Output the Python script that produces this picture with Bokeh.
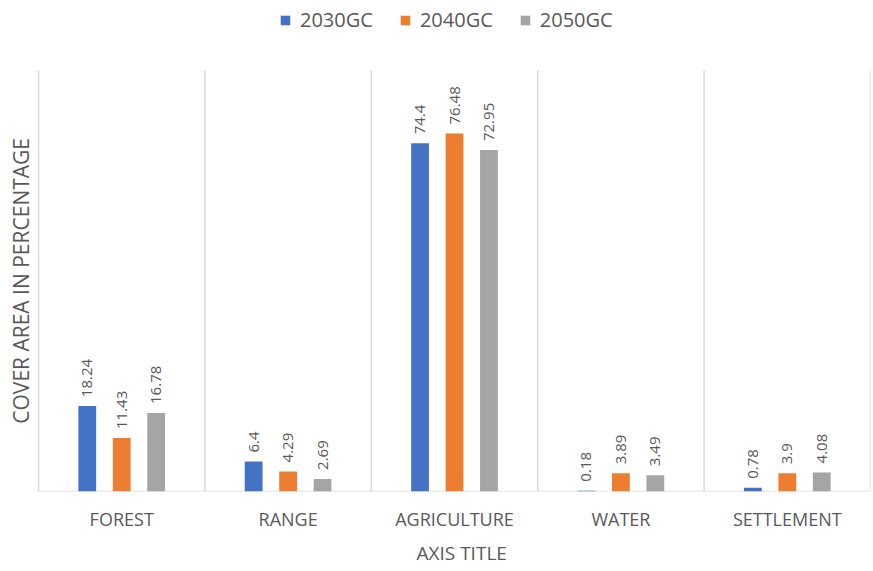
import math
from bokeh.plotting import figure
from bokeh.models import (ColumnDataSource, Range1d, FixedTicker, LabelSet,
                          Legend, LegendItem, Label, Title)
from bokeh.core.properties import value
from bokeh.embed import file_html
from bokeh.resources import INLINE

categories = ["FOREST", "RANGE", "AGRICULTURE", "WATER", "SETTLEMENT"]
series_names = ["2030GC", "2040GC", "2050GC"]
v2030 = [18.24, 6.4, 74.4, 0.18, 0.78]
v2040 = [11.43, 4.29, 76.48, 3.89, 3.9]
v2050 = [16.78, 2.69, 72.95, 3.49, 4.08]
colors = ["#4472C4", "#ED7D31", "#A5A5A5"]
y_max = 90

FONT = "Open Sans"
TXT = "#595959"
GRID = "#D9D9D9"

n = len(categories)
p = figure(width=872, height=570, output_backend="svg", toolbar_location=None,
           x_range=Range1d(-0.2284, n), y_range=Range1d(0, y_max * 493 / 423),
           min_border_left=0, min_border_right=2, min_border_top=0,
           min_border_bottom=77)
p.outline_line_color = None
p.background_fill_color = "white"
p.border_fill_color = "white"
p.yaxis.visible = False
p.xgrid.grid_line_color = None
p.ygrid.grid_line_color = None

# category separators and baseline
bounds = list(range(n + 1))
p.segment(x0=bounds, x1=bounds, y0=[0] * (n + 1), y1=[y_max] * (n + 1),
          line_color=GRID, line_width=1.5)
p.segment(x0=[0], x1=[n], y0=[0], y1=[0], line_color=GRID, line_width=1.5)

offsets = [-0.207, 0.0, 0.207]
bar_w = 0.107
items = []
for name, vals, col, off in zip(series_names, [v2030, v2040, v2050], colors, offsets):
    src = ColumnDataSource(dict(
        x=[i + 0.5 + off for i in range(n)],
        top=vals,
        lab=[str(v) for v in vals],
    ))
    r = p.vbar(x="x", top="top", bottom=0, width=bar_w, source=src,
               fill_color=col, line_color=None)
    items.append(LegendItem(label=name, renderers=[r]))
    ls = LabelSet(x="x", y="top", text="lab", source=src, angle=math.pi / 2,
                  text_align="left", text_baseline="middle", y_offset=9,
                  text_font=value(FONT), text_font_size=value("15px"),
                  text_color=TXT)
    p.add_layout(ls)

legend = Legend(items=items, orientation="horizontal", location=(279, 458),
                label_text_font=FONT, label_text_font_size="20px",
                label_text_color=TXT, glyph_width=12, glyph_height=12,
                spacing=26, border_line_color=None, background_fill_alpha=0,
                padding=0, margin=0, label_standoff=9)
p.add_layout(legend)

ytitle = Label(x=-0.105, y=y_max / 2, text="COVER AREA IN PERCENTAGE",
               angle=math.pi / 2, text_align="center", text_baseline="middle",
               text_font=FONT, text_font_size="21px", text_color=TXT)
p.add_layout(ytitle)

# x axis
p.xaxis.ticker = FixedTicker(ticks=[i + 0.5 for i in range(n)])
p.xaxis.major_label_overrides = {i + 0.5: c for i, c in enumerate(categories)}
p.xaxis.major_tick_line_color = None
p.xaxis.minor_tick_line_color = None
p.xaxis.major_tick_out = 0
p.xaxis.major_tick_in = 0
p.xaxis.minor_tick_out = 0
p.xaxis.axis_line_color = None
p.xaxis.major_label_text_font = FONT
p.xaxis.major_label_text_font_size = "18px"
p.xaxis.major_label_text_color = TXT
p.xaxis.major_label_standoff = 15

xtitle = Title(text="AXIS TITLE", align="left", offset=416, standoff=9,
               text_font=FONT, text_font_size="19px", text_font_style="normal",
               text_color=TXT)
p.add_layout(xtitle, "below")

open("out.html", "w").write(file_html(p, INLINE))
